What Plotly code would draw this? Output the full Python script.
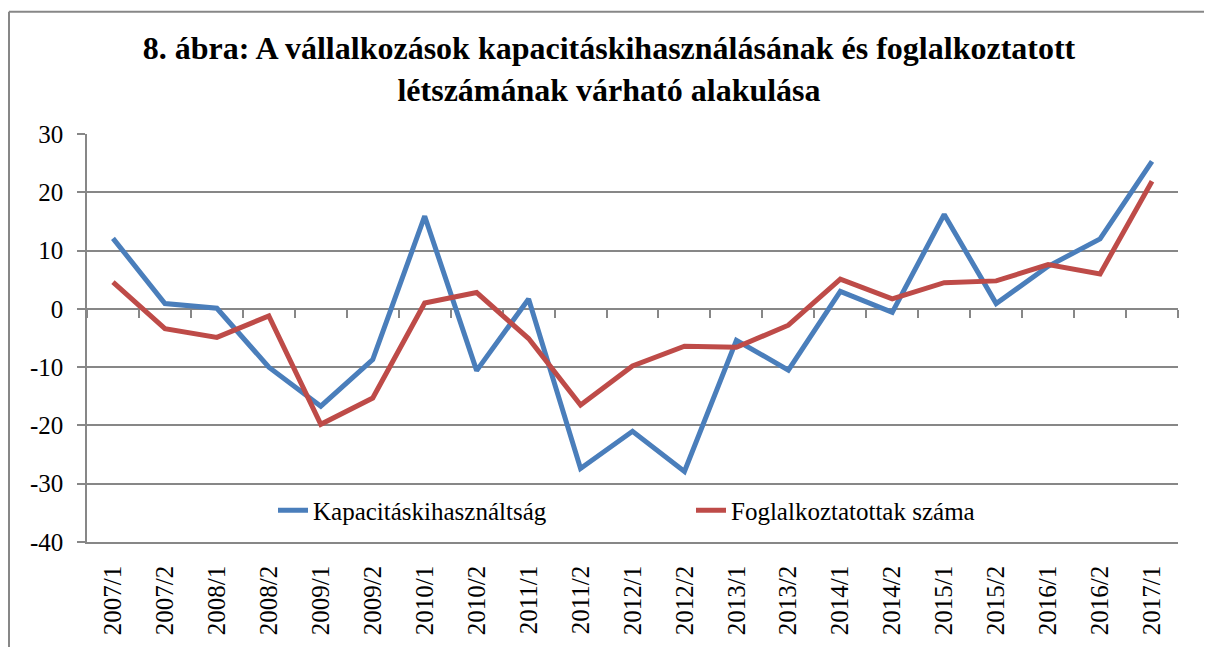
import plotly.graph_objects as go

categories = ["2007/1", "2007/2", "2008/1", "2008/2", "2009/1", "2009/2", "2010/1",
              "2010/2", "2011/1", "2011/2", "2012/1", "2012/2", "2013/1", "2013/2",
              "2014/1", "2014/2", "2015/1", "2015/2", "2016/1", "2016/2", "2017/1"]
kapacitas = [12.1, 0.9, 0.1, -10.0, -16.7, -8.7, 15.9, -10.6, 1.7, -27.4, -21.0,
             -27.9, -5.4, -10.5, 3.0, -0.6, 16.2, 0.9, 7.3, 12.0, 25.3]
foglalkoztatottak = [4.6, -3.4, -4.9, -1.2, -19.8, -15.3, 1.0, 2.8, -5.1, -16.5, -9.8,
                     -6.4, -6.6, -2.8, 5.1, 1.7, 4.5, 4.8, 7.6, 6.0, 21.9]
series_names = ["Kapacitáskihasználtság", "Foglalkoztatottak száma"]
title_text = "8. ábra: A vállalkozások kapacitáskihasználásának és foglalkoztatott<br>létszámának várható alakulása"
y_ticks = [30, 20, 10, 0, -10, -20, -30, -40]

# page body has an 8px margin: work in figure coordinates = window - 8
OFF = 8
W, H = 1212 - 2 * OFF, 655 - 2 * OFF
ML, MT = 79, 126
MR = W - 1170
MB = H - 540
PW, PH = W - ML - MR, H - MT - MB
FONT = "Liberation Serif, Times New Roman, serif"
GRAY = "#878787"
BLUE = "#4A7EBB"
RED = "#BE4B48"

def px_x(px):  # window pixel -> paper
    return (px - OFF - ML) / PW

def px_y(py):
    return (H - MB - (py - OFF)) / PH

fig = go.Figure()
fig.add_trace(go.Scatter(x=categories, y=kapacitas, mode="lines", name=series_names[0],
                         line=dict(color=BLUE, width=5), legend="legend"))
fig.add_trace(go.Scatter(x=categories, y=foglalkoztatottak, mode="lines", name=series_names[1],
                         line=dict(color=RED, width=5), legend="legend2"))
# carrier for the zero-level category axis (tick marks at boundaries)
fig.add_trace(go.Scatter(x=categories, y=[None] * len(categories), xaxis="x2",
                         showlegend=False, hoverinfo="skip"))

ymin, ymax = -40, 30
xr = [-0.5, len(categories) - 0.5]
border = dict(type="line", xref="paper", yref="paper", line=dict(color=GRAY, width=2), layer="below")
fig.update_layout(
    width=W, height=H,
    margin=dict(l=ML, r=MR, t=MT, b=MB),
    paper_bgcolor="white", plot_bgcolor="white",
    font=dict(family=FONT, color="black", size=25),
    title=dict(text=title_text, x=(609 - OFF) / W, xanchor="center",
               y=1 - 51 / H, yanchor="top",
               font=dict(family=FONT, size=32, color="black", weight="bold")),
    xaxis=dict(type="category", categoryorder="array", categoryarray=categories,
               range=xr, autorange=False,
               showline=True, linecolor=GRAY, linewidth=1.5, showgrid=False,
               ticks="", tickangle=-90, ticklabelstandoff=12,
               tickfont=dict(family=FONT, size=25, color="black"),
               layer="below traces", zeroline=False),
    xaxis2=dict(type="category", categoryorder="array", categoryarray=categories,
                overlaying="x", matches="x", anchor="free",
                position=(0 - ymin) / (ymax - ymin),
                showline=True, linecolor=GRAY, linewidth=1.5, showgrid=False,
                ticks="outside", tickson="boundaries", ticklen=8, tickwidth=1.5,
                tickcolor=GRAY, showticklabels=False, layer="below traces", zeroline=False),
    yaxis=dict(range=[ymin, ymax], tickvals=y_ticks, ticktext=[str(v) for v in y_ticks],
               showgrid=True, gridcolor=GRAY, gridwidth=1.5, zeroline=False,
               showline=True, linecolor=GRAY, linewidth=1.5,
               ticks="outside", ticklen=8, tickwidth=1.5, tickcolor=GRAY,
               ticklabelstandoff=9,
               tickfont=dict(family=FONT, size=25, color="black"),
               layer="below traces"),
    legend=dict(orientation="h", x=px_x(273), xanchor="left", y=px_y(516), yanchor="middle",
                bgcolor="rgba(0,0,0,0)", font=dict(family=FONT, size=25, color="black")),
    legend2=dict(orientation="h", x=px_x(691), xanchor="left", y=px_y(516), yanchor="middle",
                 bgcolor="rgba(0,0,0,0)", font=dict(family=FONT, size=25, color="black")),
    shapes=[
        dict(border, x0=px_x(9), x1=px_x(1400), y0=px_y(10), y1=px_y(10)),
        dict(border, x0=px_x(9), x1=px_x(9), y0=px_y(10), y1=px_y(900)),
    ],
)

fig.write_html("out.html", config={"displayModeBar": False})
